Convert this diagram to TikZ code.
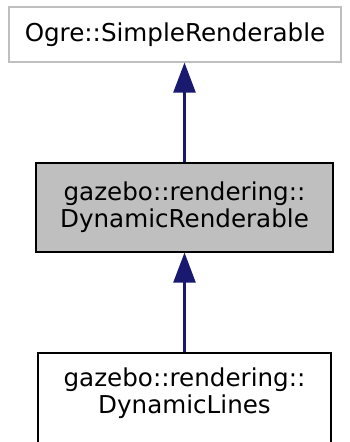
\documentclass[tikz,border=0pt]{standalone}
\usepackage{fontspec}
\setmainfont{DejaVu Sans}
\usetikzlibrary{arrows.meta}
\definecolor{edgeblue}{HTML}{191970}
\definecolor{boxgray}{HTML}{BFBFBF}
\tikzset{
  cls/.style={rectangle, draw=black, line width=2.1pt, inner sep=0pt, align=center,
    font=\fontsize{24.6pt}{26.8pt}\selectfont},
  inherit/.style={draw=edgeblue, line width=2.4pt, -{Triangle[width=22pt,length=30pt]}, shorten >=-0.5pt}
}
\begin{document}
\begin{tikzpicture}[x=1pt,y=-1pt]
\useasboundingbox (0,0) rectangle (350,442);
\node[cls, draw=boxgray, minimum width=332pt, minimum height=55pt] (ogre) at (175,34.5) {Ogre::SimpleRenderable};
\node[cls, fill=boxgray, minimum width=297pt, minimum height=89pt] (dynr) at (184.5,207.5) {gazebo::rendering::\\DynamicRenderable};
\node[cls, minimum width=293pt, minimum height=92pt] (dynl) at (184.5,399) {};
\node[font=\fontsize{24.6pt}{26.8pt}\selectfont, align=center, inner sep=0pt] (dynltext) at (184.5,393.5) {gazebo::rendering::\\DynamicLines};
\draw[inherit] (dynr.north -| 184.5,0) -- (ogre.south -| 184.5,0);
\draw[inherit] (dynl.north) -- (dynr.south);
\end{tikzpicture}
\end{document}
